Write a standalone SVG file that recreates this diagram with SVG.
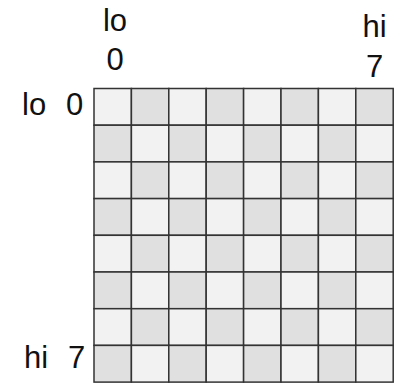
<svg xmlns="http://www.w3.org/2000/svg" width="397" height="383" viewBox="0 0 397 383">
<style>
.l{fill:#f2f2f2}
.d{fill:#e0e0e0}
.g rect{stroke:#333;stroke-width:1.5}
text{font-family:"Liberation Sans",Arial,sans-serif;font-size:31px;fill:#111}
</style>
<rect width="397" height="383" fill="#fff"/>
<g id="labels">
<text x="115" y="31" text-anchor="middle">lo</text>
<text x="115" y="70" text-anchor="middle">0</text>
<text x="374.5" y="37" text-anchor="middle">hi</text>
<text x="374.5" y="77" text-anchor="middle">7</text>
<text x="22" y="115">lo</text>
<text x="66" y="115">0</text>
<text x="24" y="368">hi</text>
<text x="68" y="368">7</text>
</g>
<g id="grid" class="g">
<rect class="l" x="94" y="88.5" width="37.4" height="36.7"/><rect class="d" x="131.4" y="88.5" width="37.4" height="36.7"/><rect class="l" x="168.8" y="88.5" width="37.4" height="36.7"/><rect class="d" x="206.2" y="88.5" width="37.4" height="36.7"/><rect class="l" x="243.6" y="88.5" width="37.4" height="36.7"/><rect class="d" x="281" y="88.5" width="37.4" height="36.7"/><rect class="l" x="318.4" y="88.5" width="37.4" height="36.7"/><rect class="d" x="355.8" y="88.5" width="37.4" height="36.7"/>
<rect class="d" x="94" y="125.2" width="37.4" height="36.7"/><rect class="l" x="131.4" y="125.2" width="37.4" height="36.7"/><rect class="d" x="168.8" y="125.2" width="37.4" height="36.7"/><rect class="l" x="206.2" y="125.2" width="37.4" height="36.7"/><rect class="d" x="243.6" y="125.2" width="37.4" height="36.7"/><rect class="l" x="281" y="125.2" width="37.4" height="36.7"/><rect class="d" x="318.4" y="125.2" width="37.4" height="36.7"/><rect class="l" x="355.8" y="125.2" width="37.4" height="36.7"/>
<rect class="l" x="94" y="161.9" width="37.4" height="36.7"/><rect class="d" x="131.4" y="161.9" width="37.4" height="36.7"/><rect class="l" x="168.8" y="161.9" width="37.4" height="36.7"/><rect class="d" x="206.2" y="161.9" width="37.4" height="36.7"/><rect class="l" x="243.6" y="161.9" width="37.4" height="36.7"/><rect class="d" x="281" y="161.9" width="37.4" height="36.7"/><rect class="l" x="318.4" y="161.9" width="37.4" height="36.7"/><rect class="d" x="355.8" y="161.9" width="37.4" height="36.7"/>
<rect class="d" x="94" y="198.6" width="37.4" height="36.7"/><rect class="l" x="131.4" y="198.6" width="37.4" height="36.7"/><rect class="d" x="168.8" y="198.6" width="37.4" height="36.7"/><rect class="l" x="206.2" y="198.6" width="37.4" height="36.7"/><rect class="d" x="243.6" y="198.6" width="37.4" height="36.7"/><rect class="l" x="281" y="198.6" width="37.4" height="36.7"/><rect class="d" x="318.4" y="198.6" width="37.4" height="36.7"/><rect class="l" x="355.8" y="198.6" width="37.4" height="36.7"/>
<rect class="l" x="94" y="235.3" width="37.4" height="36.7"/><rect class="d" x="131.4" y="235.3" width="37.4" height="36.7"/><rect class="l" x="168.8" y="235.3" width="37.4" height="36.7"/><rect class="d" x="206.2" y="235.3" width="37.4" height="36.7"/><rect class="l" x="243.6" y="235.3" width="37.4" height="36.7"/><rect class="d" x="281" y="235.3" width="37.4" height="36.7"/><rect class="l" x="318.4" y="235.3" width="37.4" height="36.7"/><rect class="d" x="355.8" y="235.3" width="37.4" height="36.7"/>
<rect class="d" x="94" y="272" width="37.4" height="36.7"/><rect class="l" x="131.4" y="272" width="37.4" height="36.7"/><rect class="d" x="168.8" y="272" width="37.4" height="36.7"/><rect class="l" x="206.2" y="272" width="37.4" height="36.7"/><rect class="d" x="243.6" y="272" width="37.4" height="36.7"/><rect class="l" x="281" y="272" width="37.4" height="36.7"/><rect class="d" x="318.4" y="272" width="37.4" height="36.7"/><rect class="l" x="355.8" y="272" width="37.4" height="36.7"/>
<rect class="l" x="94" y="308.7" width="37.4" height="36.7"/><rect class="d" x="131.4" y="308.7" width="37.4" height="36.7"/><rect class="l" x="168.8" y="308.7" width="37.4" height="36.7"/><rect class="d" x="206.2" y="308.7" width="37.4" height="36.7"/><rect class="l" x="243.6" y="308.7" width="37.4" height="36.7"/><rect class="d" x="281" y="308.7" width="37.4" height="36.7"/><rect class="l" x="318.4" y="308.7" width="37.4" height="36.7"/><rect class="d" x="355.8" y="308.7" width="37.4" height="36.7"/>
<rect class="d" x="94" y="345.4" width="37.4" height="36.7"/><rect class="l" x="131.4" y="345.4" width="37.4" height="36.7"/><rect class="d" x="168.8" y="345.4" width="37.4" height="36.7"/><rect class="l" x="206.2" y="345.4" width="37.4" height="36.7"/><rect class="d" x="243.6" y="345.4" width="37.4" height="36.7"/><rect class="l" x="281" y="345.4" width="37.4" height="36.7"/><rect class="d" x="318.4" y="345.4" width="37.4" height="36.7"/><rect class="l" x="355.8" y="345.4" width="37.4" height="36.7"/>
</g>
</svg>
